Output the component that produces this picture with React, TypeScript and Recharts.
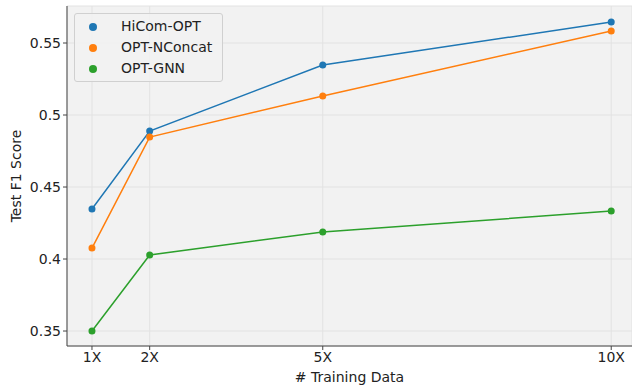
import { LineChart, Line, XAxis, YAxis, CartesianGrid } from "recharts"

const trainingSizes = [1, 2, 5, 10]
const hicomOpt = [0.4347, 0.4889, 0.5347, 0.5646]
const optNConcat = [0.4076, 0.4847, 0.5132, 0.5583]
const optGnn = [0.35, 0.4028, 0.4188, 0.4333]
const yTicks = [0.35, 0.4, 0.45, 0.5, 0.55]

const series = [
  { key: "hicom", name: "HiCom-OPT", color: "#1f77b4" },
  { key: "nconcat", name: "OPT-NConcat", color: "#ff7f0e" },
  { key: "gnn", name: "OPT-GNN", color: "#2ca02c" },
]

const data = trainingSizes.map((x, i) => ({
  x,
  hicom: hicomOpt[i],
  nconcat: optNConcat[i],
  gnn: optGnn[i],
}))

const font = "DejaVu Sans, sans-serif"

function LegendBox() {
  return (
    <div
      style={{
        position: "absolute",
        left: 74,
        top: 13,
        border: "1px solid #d0d0d0",
        borderRadius: 3,
        background: "rgba(242,242,242,0.85)",
        padding: "2px 10px 2px 8px",
        fontFamily: font,
        fontSize: 14,
        color: "#222",
        lineHeight: "21px",
      }}
    >
      {series.map((s) => (
        <div key={s.key} style={{ display: "flex", alignItems: "center" }}>
          <span
            style={{
              display: "inline-block",
              width: 8,
              height: 8,
              borderRadius: 4,
              background: s.color,
              marginLeft: 6,
              marginRight: 24,
            }}
          />
          {s.name}
        </div>
      ))}
    </div>
  )
}

export default function App() {
  return (
    <div style={{ position: "absolute", left: 0, top: 0, width: 632, height: 386, background: "#fff" }}>
      <LineChart width={632} height={386} data={data} margin={{ top: 6, right: 0, bottom: 0, left: 0 }}>
        <CartesianGrid fill="#f2f2f2" stroke="#e2e2e2" strokeWidth={1} />
        <XAxis
          dataKey="x"
          type="number"
          domain={[0.567, 10.36]}
          ticks={trainingSizes}
          tickFormatter={(v) => `${v}X`}
          height={40}
          axisLine={{ stroke: "#444", strokeWidth: 1 }}
          tickLine={{ stroke: "#444" }}
          tickSize={4}
          tick={{ fontSize: 14, fill: "#222", fontFamily: font }}
          label={{ value: "# Training Data", position: "insideBottom", offset: 4, fontSize: 14, fill: "#222", fontFamily: font }}
        />
        <YAxis
          type="number"
          domain={[0.3396, 0.5757]}
          ticks={yTicks}
          allowDataOverflow
          width={67}
          axisLine={{ stroke: "#444", strokeWidth: 1 }}
          tickLine={{ stroke: "#444" }}
          tickSize={4}
          tick={{ fontSize: 14, fill: "#222", fontFamily: font }}
          label={{ value: "Test F1 Score", angle: -90, position: "insideLeft", offset: 16, fontSize: 14, fill: "#222", fontFamily: font, style: { textAnchor: "middle" } }}
        />
        {series.map((s) => (
          <Line
            key={s.key}
            dataKey={s.key}
            name={s.name}
            type="linear"
            stroke={s.color}
            strokeWidth={1.5}
            dot={{ r: 3.5, fill: s.color, stroke: s.color, strokeWidth: 0 }}
            activeDot={false}
            isAnimationActive={false}
          />
        ))}
      </LineChart>
      <LegendBox />
    </div>
  )
}
